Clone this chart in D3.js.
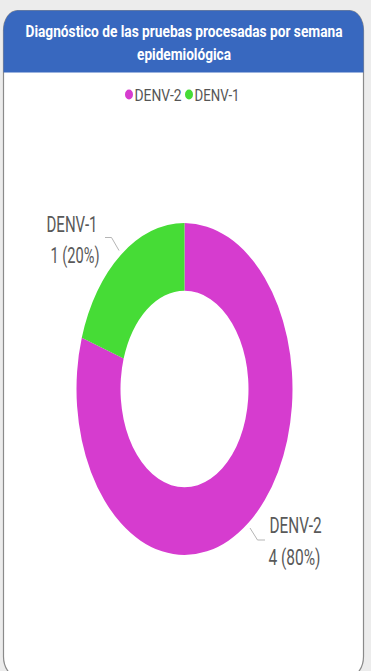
<!DOCTYPE html>
<html>
<head>
<meta charset="utf-8">
<script src="https://cdn.jsdelivr.net/npm/d3@7/dist/d3.min.js"></script>
<style>
  html, body { margin: 0; padding: 0; background: #ececec; }
  svg { display: block; }
  text { font-family: "Roboto", "Liberation Sans", sans-serif; }
</style>
</head>
<body>
<svg id="chart" width="371" height="671"></svg>
<script>
// Serotype results for the processed tests
const categories = ["DENV-2", "DENV-1"];
const counts = [4, 1];
const colors = ["#d63ccf", "#46dc36"];
const titleLines = ["Diagnóstico de las pruebas procesadas por semana", "epidemiológica"];

const svg = d3.select("#chart");

// Card with rounded corners (elliptical, the view is stretched vertically)
const card = { x: 3.5, y: 10.5, w: 360, h: 666, rx: 14, ry: 20 };
svg.append("rect")
  .attr("x", card.x).attr("y", card.y)
  .attr("width", card.w).attr("height", card.h)
  .attr("rx", card.rx).attr("ry", card.ry)
  .attr("fill", "#ffffff")
  .attr("stroke", "#8a8a8a")
  .attr("stroke-width", 1.2);

// Blue header band, rounded on top only
const hb = { x: card.x, y: card.y, w: card.w, h: 62, rx: card.rx, ry: card.ry };
svg.append("path")
  .attr("d", `M${hb.x},${hb.y + hb.h} V${hb.y + hb.ry}
              A${hb.rx},${hb.ry} 0 0 1 ${hb.x + hb.rx},${hb.y}
              H${hb.x + hb.w - hb.rx}
              A${hb.rx},${hb.ry} 0 0 1 ${hb.x + hb.w},${hb.y + hb.ry}
              V${hb.y + hb.h} Z`)
  .attr("fill", "#3868bf");

// Title: small bold type stretched vertically
const titleWidths = [317, 94];
svg.append("g").selectAll("text")
  .data(titleLines)
  .join("text")
  .attr("transform", (d, i) => `translate(184,${37 + i * 23}) scale(1,1.45)`)
  .attr("text-anchor", "middle")
  .attr("textLength", (d, i) => titleWidths[i])
  .attr("lengthAdjust", "spacingAndGlyphs")
  .attr("fill", "#ffffff")
  .attr("font-size", 12)
  .attr("font-weight", "bold")
  .text(d => d);

// Legend
const legendX = d3.scalePoint().domain(categories).range([129, 189]);
const legendWidths = [47, 45];
const legend = svg.append("g").selectAll("g")
  .data(categories)
  .join("g")
  .attr("transform", d => `translate(${legendX(d)},94.5)`);
legend.append("ellipse").attr("rx", 4).attr("ry", 5).attr("fill", (d, i) => colors[i]);
legend.append("text")
  .attr("x", 5.5).attr("y", 6)
  .attr("font-size", 17)
  .attr("textLength", (d, i) => legendWidths[i])
  .attr("lengthAdjust", "spacingAndGlyphs")
  .attr("fill", "#555")
  .text(d => d);

// Donut: drawn as a circle then stretched vertically
const cx = 184.5, cy = 389;
const R = 108, r0 = 64, sy = 166 / 108;
const data = categories.map((c, i) => ({ cat: c, value: counts[i], color: colors[i] }));
const total = d3.sum(counts);

const pie = d3.pie().value(d => d.value).sort(null);
const arcs = pie(data);
const arc = d3.arc().innerRadius(r0).outerRadius(R);

svg.append("g")
  .attr("transform", `translate(${cx},${cy}) scale(1,${sy})`)
  .selectAll("path")
  .data(arcs)
  .join("path")
  .attr("d", arc)
  .attr("fill", d => d.data.color);

// Outside labels with leader lines
const pct = d3.format(".0%");
const labelSpecs = {
  "DENV-1": { x: [46.5, 50.5], y: [232, 263], w: [51, 49], line: [[119, 250.5], [111.5, 237.5], [105, 237.5]] },
  "DENV-2": { x: [269.5, 268.5], y: [533, 565], w: [52, 52], line: [[250, 528], [257.5, 540], [265, 540]] }
};

const lbl = svg.append("g").selectAll("g")
  .data(arcs)
  .join("g");

lbl.append("path")
  .attr("d", d => d3.line()(labelSpecs[d.data.cat].line))
  .attr("fill", "none")
  .attr("stroke", "#b5b5b5")
  .attr("stroke-width", 1);

const labelText = d => [d.data.cat, `${d.data.value} (${pct(d.data.value / total)})`];

lbl.each(function (d) {
  const s = labelSpecs[d.data.cat];
  d3.select(this).selectAll("text")
    .data(labelText(d))
    .join("text")
    .attr("x", (t, i) => s.x[i])
    .attr("y", (t, i) => s.y[i])
    .attr("textLength", (t, i) => s.w[i])
    .attr("lengthAdjust", "spacingAndGlyphs")
    .attr("font-size", 22)
    .attr("fill", "#595959")
    .text(t => t);
});
</script>
</body>
</html>
